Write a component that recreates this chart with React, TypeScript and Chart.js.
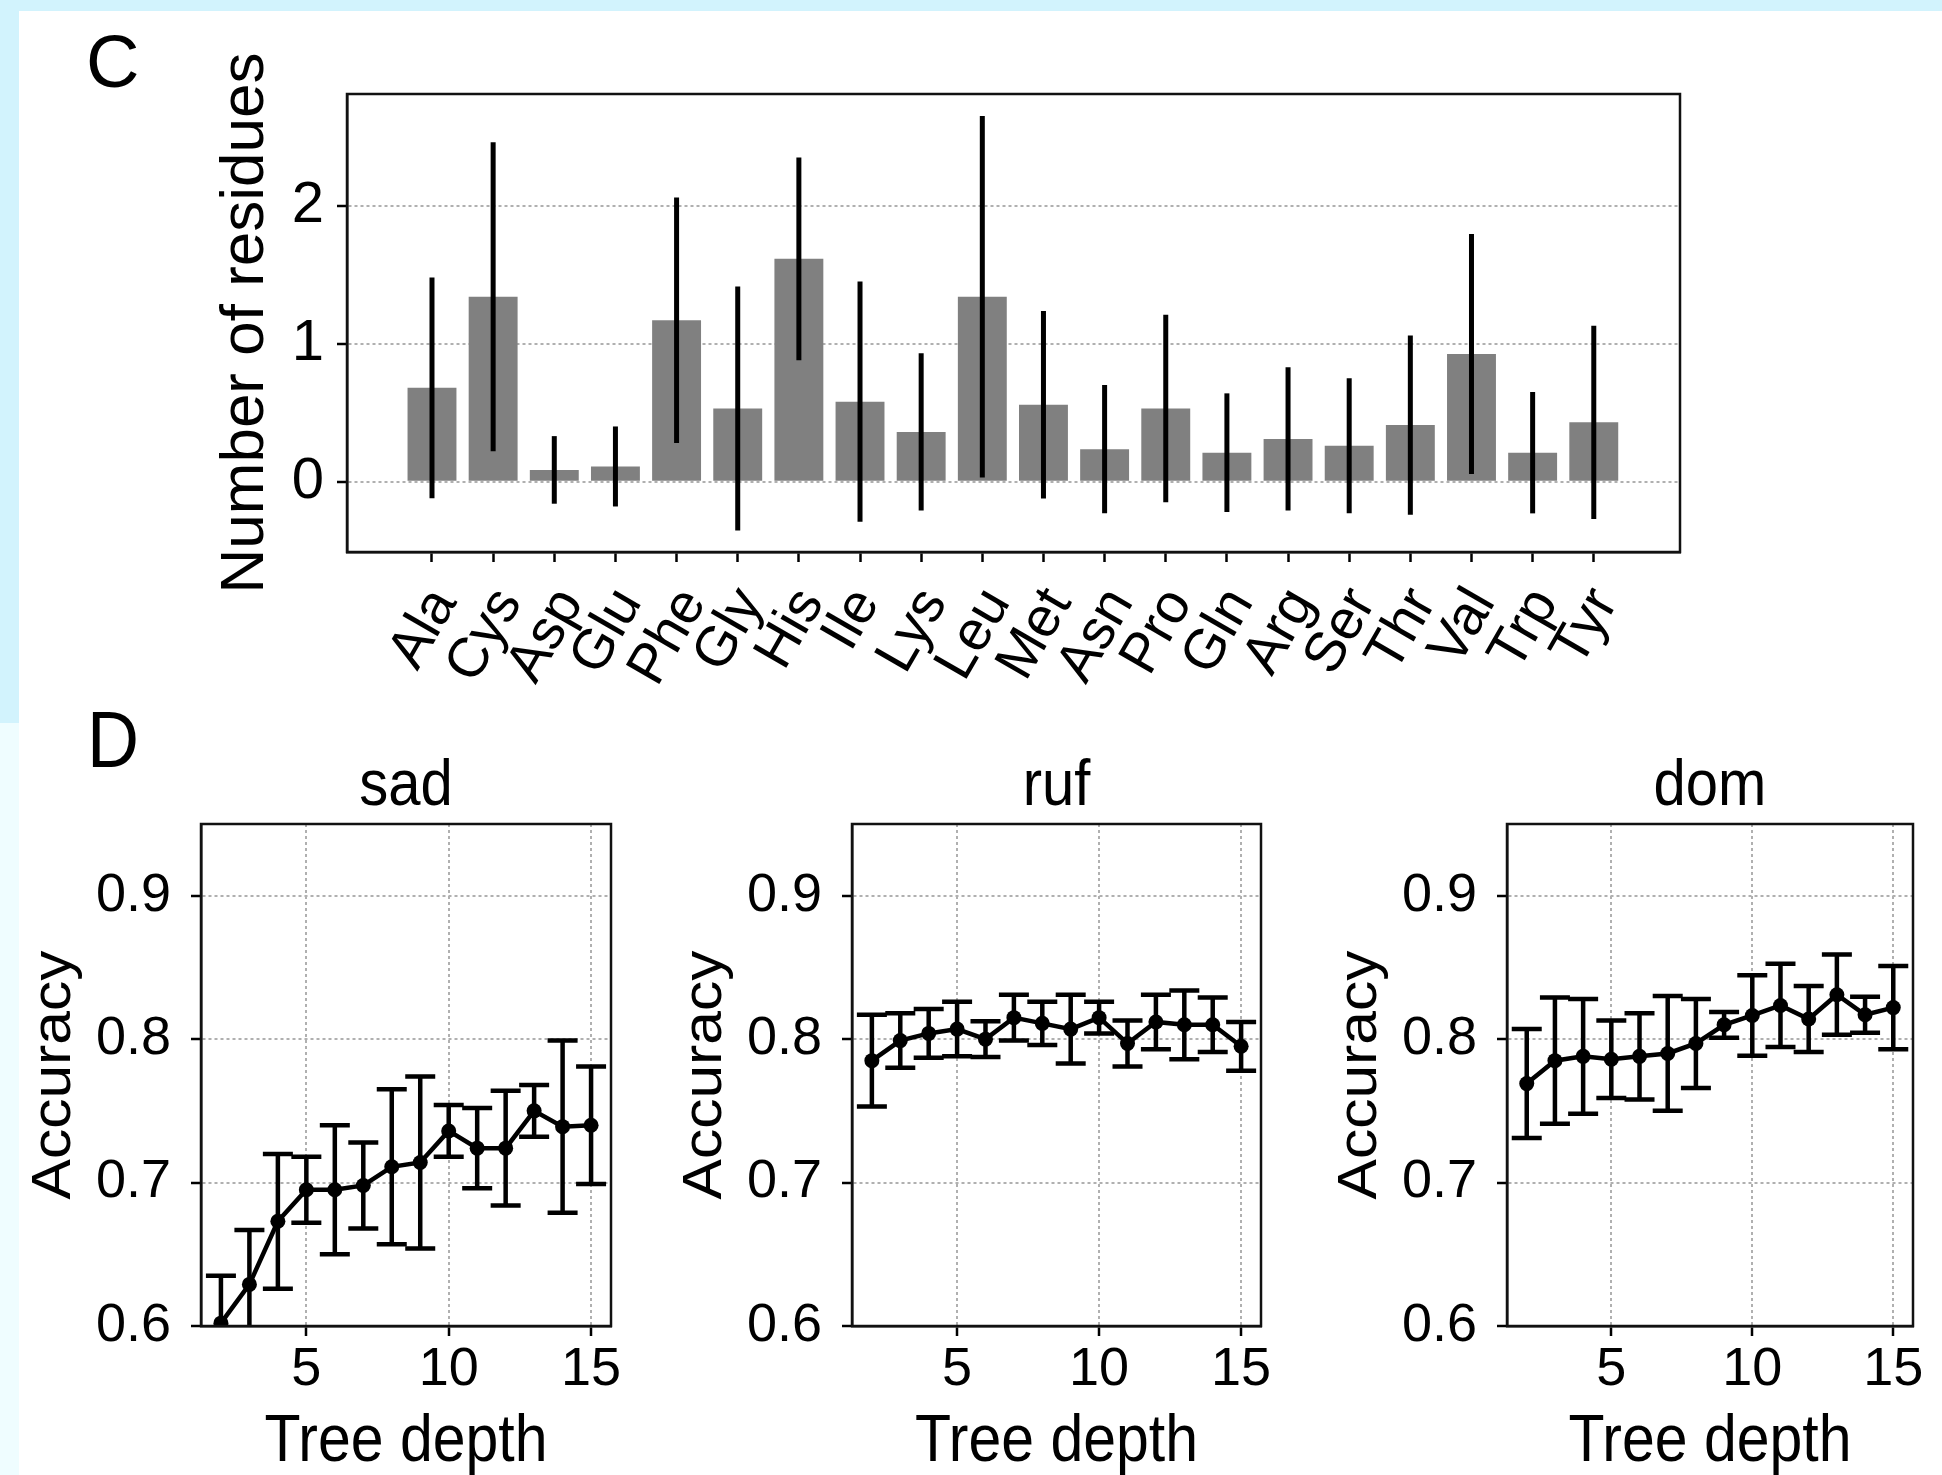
import React, { useEffect, useRef } from "react";
import { Chart, registerables } from "chart.js";

Chart.register(...registerables);

// ---------- Data: panel C ----------
const residues = ["Ala", "Cys", "Asp", "Glu", "Phe", "Gly", "His", "Ile", "Lys", "Leu", "Met", "Asn", "Pro", "Gln", "Arg", "Ser", "Thr", "Val", "Trp", "Tyr"];
const residueMeans = [0.68, 1.34, 0.085, 0.11, 1.17, 0.53, 1.615, 0.58, 0.36, 1.34, 0.557, 0.235, 0.53, 0.21, 0.31, 0.26, 0.41, 0.925, 0.21, 0.43];
const residueErrors = [0.8, 1.12, 0.245, 0.29, 0.89, 0.885, 0.735, 0.87, 0.57, 1.31, 0.68, 0.465, 0.68, 0.43, 0.52, 0.49, 0.65, 0.87, 0.44, 0.7];
const residueYTicks = [0, 1, 2];

// ---------- Data: panel D ----------
const treeDepths = [2, 3, 4, 5, 6, 7, 8, 9, 10, 11, 12, 13, 14, 15];
const sadAccuracy = [0.602, 0.629, 0.673, 0.695, 0.695, 0.698, 0.711, 0.714, 0.736, 0.724, 0.724, 0.75, 0.739, 0.74];
const sadError = [0.033, 0.038, 0.047, 0.023, 0.045, 0.03, 0.054, 0.06, 0.018, 0.028, 0.04, 0.018, 0.06, 0.041];
const rufAccuracy = [0.785, 0.799, 0.804, 0.807, 0.8, 0.815, 0.811, 0.807, 0.815, 0.797, 0.812, 0.81, 0.81, 0.795];
const rufError = [0.032, 0.019, 0.017, 0.019, 0.0125, 0.016, 0.015, 0.024, 0.011, 0.016, 0.019, 0.024, 0.019, 0.017];
const domAccuracy = [0.769, 0.785, 0.788, 0.786, 0.788, 0.79, 0.797, 0.81, 0.8165, 0.8235, 0.814, 0.831, 0.817, 0.822];
const domError = [0.038, 0.044, 0.04, 0.027, 0.03, 0.04, 0.031, 0.009, 0.028, 0.029, 0.023, 0.028, 0.0125, 0.029];
const accuracyYTicks = [0.6, 0.7, 0.8, 0.9];
const depthTicks = [5, 10, 15];

const FONT = '"Liberation Sans", Arial, Helvetica, sans-serif';
Chart.defaults.font.family = FONT;
Chart.defaults.color = "#000";

// ---------- Plugins ----------
const errorBarsPlugin = {
  id: "errorBars",
  afterDatasetsDraw(chart: any, _a: any, opts: any) {
    if (!opts || !opts.errors) return;
    const { ctx, chartArea: ca } = chart;
    const xs = chart.scales.x;
    const ys = chart.scales.y;
    const pts = chart.data.datasets[0].data as any[];
    ctx.save();
    ctx.beginPath();
    ctx.rect(ca.left, ca.top, ca.right - ca.left, ca.bottom - ca.top);
    ctx.clip();
    ctx.strokeStyle = "#000";
    ctx.lineWidth = opts.width;
    pts.forEach((p, i) => {
      const x = xs.getPixelForValue(p.x);
      const lo = ys.getPixelForValue(p.y - opts.errors[i]);
      const hi = ys.getPixelForValue(p.y + opts.errors[i]);
      ctx.beginPath();
      ctx.moveTo(x, lo);
      ctx.lineTo(x, hi);
      if (opts.cap) {
        ctx.moveTo(x - opts.cap, lo);
        ctx.lineTo(x + opts.cap, lo);
        ctx.moveTo(x - opts.cap, hi);
        ctx.lineTo(x + opts.cap, hi);
      }
      ctx.stroke();
    });
    ctx.restore();
  },
};

const framePlugin = {
  id: "frame",
  afterDraw(chart: any) {
    const { ctx, chartArea: ca } = chart;
    ctx.save();
    ctx.strokeStyle = "#111";
    ctx.lineWidth = 2.5;
    ctx.strokeRect(ca.left, ca.top, ca.right - ca.left, ca.bottom - ca.top);
    ctx.restore();
  },
};

const textsPlugin = {
  id: "texts",
  afterDraw(chart: any, _a: any, opts: any) {
    if (!opts || !opts.items) return;
    const { ctx, chartArea: ca } = chart;
    ctx.save();
    ctx.fillStyle = "#000";
    ctx.textBaseline = "alphabetic";
    (opts.items as any[]).forEach((it) => {
      let x = it.dx;
      let y = it.dy;
      if (it.ax === "left") x += ca.left;
      else if (it.ax === "center") x += (ca.left + ca.right) / 2;
      else if (it.ax === "right") x += ca.right;
      if (it.ay === "top") y += ca.top;
      else if (it.ay === "middle") y += (ca.top + ca.bottom) / 2;
      else if (it.ay === "bottom") y += ca.bottom;
      ctx.font = `${it.size}px ${FONT}`;
      ctx.textAlign = it.align || "center";
      ctx.save();
      ctx.translate(x, y);
      if (it.sy) ctx.scale(1, it.sy);
      if (it.rot) ctx.rotate((it.rot * Math.PI) / 180);
      ctx.fillText(it.text, 0, 0);
      ctx.restore();
    });
    ctx.restore();
  },
};

const rotatedLabelsPlugin = {
  id: "rotatedLabels",
  afterDraw(chart: any, _a: any, opts: any) {
    if (!opts || !opts.labels) return;
    const { ctx, chartArea: ca } = chart;
    const xs = chart.scales.x;
    const th = (opts.angle * Math.PI) / 180;
    ctx.save();
    ctx.font = `${opts.size}px ${FONT}`;
    ctx.fillStyle = "#000";
    ctx.textAlign = "center";
    ctx.textBaseline = "middle";
    (opts.labels as string[]).forEach((lab, i) => {
      const w = ctx.measureText(lab).width;
      const bh = w * Math.sin(th) + opts.size * Math.cos(th);
      const cx = xs.getPixelForValue(i) + opts.dx;
      const cy = ca.bottom + opts.top + bh / 2;
      ctx.save();
      ctx.translate(cx, cy);
      ctx.rotate(-th);
      ctx.fillText(lab, 0, 0);
      ctx.restore();
    });
    ctx.restore();
  },
};

Chart.register(errorBarsPlugin, framePlugin, textsPlugin, rotatedLabelsPlugin);

const GRID_COLOR = "#b0b0b0";

function residueConfig(): any {
  return {
    type: "bar",
    data: {
      datasets: [
        {
          data: residueMeans.map((v, i) => ({ x: i, y: v })),
          backgroundColor: "#808080",
          borderWidth: 0,
          barPercentage: 0.8,
          categoryPercentage: 1,
        },
      ],
    },
    options: {
      responsive: false,
      animation: false,
      events: [],
      layout: { padding: { top: 94, right: 262, left: 0, bottom: 0 } },
      plugins: {
        legend: { display: false },
        tooltip: { enabled: false },
        errorBars: { errors: residueErrors, width: 5, cap: 0 },
        rotatedLabels: { labels: residues, angle: 60, size: 56, top: 28, dx: -8 },
        texts: {
          items: [
            { text: "C", ax: "abs", ay: "abs", dx: 86, dy: 87, size: 74, align: "left" },
            { text: "Number of residues", ax: "left", ay: "middle", dx: -84, dy: 0, size: 62, rot: -90 },
          ],
        },
      },
      scales: {
        x: {
          type: "linear",
          min: -1.39,
          max: 20.41,
          offset: false,
          afterBuildTicks: (s: any) => {
            s.ticks = residues.map((_, i) => ({ value: i }));
          },
          afterFit: (s: any) => {
            s.height = 168;
          },
          grid: { display: true, drawOnChartArea: false, drawTicks: true, tickLength: 10, tickColor: "#000", tickWidth: 2.5, offset: false },
          border: { display: true, color: "#000", width: 2.5 },
          ticks: { display: false },
        },
        y: {
          type: "linear",
          min: -0.51,
          max: 2.81,
          afterBuildTicks: (s: any) => {
            s.ticks = residueYTicks.map((v) => ({ value: v }));
          },
          afterFit: (s: any) => {
            s.width = 347;
          },
          grid: { color: GRID_COLOR, lineWidth: 2, tickLength: 10, tickColor: "#000", tickWidth: 2.5 },
          border: { display: true, color: "#000", width: 2.5, dash: [3, 3] },
          ticks: { font: { size: 58 }, color: "#000", padding: 13, callback: (v: any) => String(v) },
        },
      },
    },
  };
}

const D_TOP = 680;

function accuracyConfig(title: string, means: number[], errs: number[], yWidth: number, padRight: number, withLabel: boolean): any {
  const items: any[] = [
    { text: title, ax: "center", ay: "top", dx: 0, dy: -19, size: 58, sy: 1.13 },
    { text: "Tree depth", ax: "center", ay: "bottom", dx: 0, dy: 135, size: 59, sy: 1.14 },
    { text: "Accuracy", ax: "left", ay: "middle", dx: -131, dy: 0, size: 55, sy: 1.1, rot: -90 },
  ];
  if (withLabel) items.push({ text: "D", ax: "abs", ay: "abs", dx: 87, dy: 767 - D_TOP, size: 72, sy: 1.1, align: "left" });
  return {
    type: "line",
    data: {
      datasets: [
        {
          data: treeDepths.map((d, i) => ({ x: d, y: means[i] })),
          borderColor: "#000",
          backgroundColor: "#000",
          borderWidth: 4.5,
          pointRadius: 7.5,
          pointBackgroundColor: "#000",
          pointBorderWidth: 0,
          tension: 0,
        },
      ],
    },
    options: {
      responsive: false,
      animation: false,
      events: [],
      layout: { padding: { top: 824 - D_TOP, right: padRight, left: 0, bottom: 0 } },
      plugins: {
        legend: { display: false },
        tooltip: { enabled: false },
        errorBars: { errors: errs, width: 4.5, cap: 15 },
        texts: { items },
      },
      scales: {
        x: {
          type: "linear",
          min: 1.3,
          max: 15.7,
          afterBuildTicks: (s: any) => {
            s.ticks = depthTicks.map((v) => ({ value: v }));
          },
          afterFit: (s: any) => {
            s.height = 149;
          },
          grid: { color: GRID_COLOR, lineWidth: 2, tickLength: 10, tickColor: "#000", tickWidth: 2.5 },
          border: { display: true, color: "#000", width: 2.5, dash: [3, 3] },
          ticks: { font: { size: 54 }, color: "#000", padding: 2, maxRotation: 0, callback: (v: any) => String(v) },
        },
        y: {
          type: "linear",
          min: 0.6,
          max: 0.95,
          afterBuildTicks: (s: any) => {
            s.ticks = accuracyYTicks.map((v) => ({ value: v }));
          },
          afterFit: (s: any) => {
            s.width = yWidth;
          },
          grid: { color: GRID_COLOR, lineWidth: 2, tickLength: 10, tickColor: "#000", tickWidth: 2.5 },
          border: { display: true, color: "#000", width: 2.5, dash: [3, 3] },
          ticks: { font: { size: 54 }, color: "#000", padding: 20, callback: (v: any) => Number(v).toFixed(1) },
        },
      },
    },
  };
}

function ChartCanvas(props: { config: () => any; left: number; top: number; width: number; height: number }) {
  const ref = useRef<HTMLCanvasElement | null>(null);
  useEffect(() => {
    if (!ref.current) return;
    const chart = new Chart(ref.current, props.config());
    return () => chart.destroy();
  }, []);
  return (
    <canvas
      ref={ref}
      width={props.width}
      height={props.height}
      style={{ position: "absolute", left: props.left, top: props.top, width: props.width, height: props.height }}
    />
  );
}

export default function App() {
  const dh = 1475 - D_TOP;
  return (
    <div style={{ position: "absolute", left: 0, top: 0, width: 1942, height: 1475, background: "#ffffff", overflow: "hidden", fontFamily: FONT }}>
      <div style={{ position: "absolute", left: 0, top: 0, width: 1942, height: 11, background: "#d2f3fd" }} />
      <div style={{ position: "absolute", left: 0, top: 0, width: 19, height: 723, background: "#d2f3fd" }} />
      <div style={{ position: "absolute", left: 0, top: 723, width: 19, height: 752, background: "#effdff" }} />
      <ChartCanvas config={residueConfig} left={0} top={0} width={1942} height={720} />
      <ChartCanvas config={() => accuracyConfig("sad", sadAccuracy, sadError, 201, 39, true)} left={0} top={D_TOP} width={650} height={dh} />
      <ChartCanvas config={() => accuracyConfig("ruf", rufAccuracy, rufError, 202, 49, false)} left={650} top={D_TOP} width={660} height={dh} />
      <ChartCanvas config={() => accuracyConfig("dom", domAccuracy, domError, 197, 29, false)} left={1310} top={D_TOP} width={632} height={dh} />
    </div>
  );
}
